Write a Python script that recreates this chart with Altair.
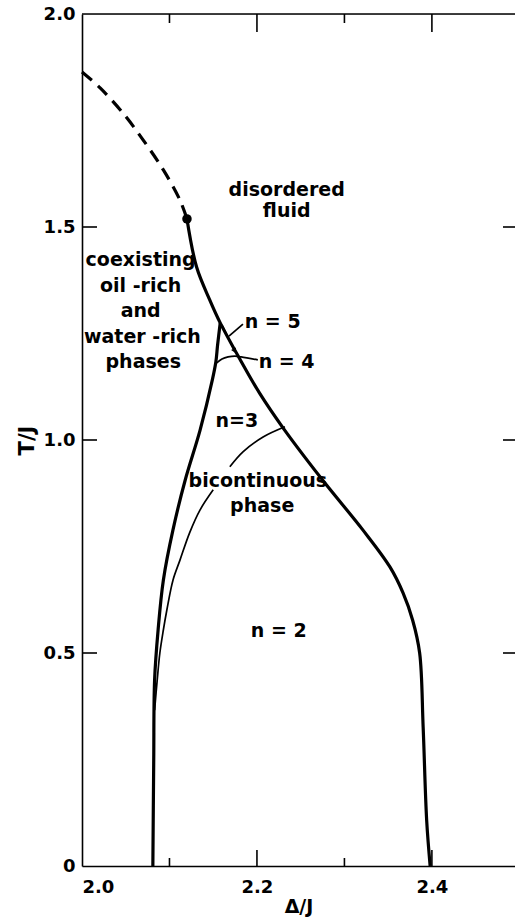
import altair as alt
import pandas as pd

# Phase boundaries in the (Delta/J, T/J) plane
dashed_d = [2.000, 2.021, 2.047, 2.070, 2.093, 2.112, 2.120]
dashed_t = [1.864, 1.826, 1.767, 1.704, 1.634, 1.563, 1.519]

right_d = [2.120, 2.131, 2.146, 2.158, 2.181, 2.203, 2.230, 2.275, 2.321, 2.352,
           2.367, 2.378, 2.386, 2.390, 2.394, 2.398]
right_t = [1.519, 1.406, 1.329, 1.275, 1.188, 1.110, 1.028, 0.906, 0.789, 0.702,
           0.641, 0.577, 0.500, 0.326, 0.108, 0.000]

left_d = [2.158, 2.155, 2.153, 2.149, 2.135, 2.118, 2.104, 2.093, 2.087, 2.083, 2.082, 2.081]
left_t = [1.275, 1.223, 1.183, 1.141, 1.023, 0.906, 0.789, 0.671, 0.554, 0.437, 0.249, 0.000]

bico_upper_d = [2.232, 2.207, 2.184, 2.169]
bico_upper_t = [1.031, 1.007, 0.972, 0.937]
bico_lower_d = [2.150, 2.135, 2.123, 2.112, 2.104, 2.097, 2.093, 2.089, 2.086, 2.083]
bico_lower_t = [0.883, 0.836, 0.782, 0.718, 0.671, 0.601, 0.554, 0.500, 0.437, 0.366]

n4_d = [2.154, 2.160, 2.167, 2.175, 2.182, 2.201]
n4_t = [1.181, 1.190, 1.195, 1.197, 1.195, 1.188]

n5_inner_d = [2.160, 2.174]
n5_inner_t = [1.270, 1.211]
n5_pointer_d = [2.184, 2.168]
n5_pointer_t = [1.272, 1.244]

critical_d = [2.120]
critical_t = [1.519]

# Axis ticks
x_label_values = [2.0, 2.2, 2.4]
x_major_ticks = [2.2, 2.4]
x_minor_ticks = [2.1, 2.3]
y_ticks = [0.5, 1.0, 1.5]

# Region labels
label_text = ["disordered", "fluid", "coexisting", "oil -rich", "and", "water -rich",
              "phases", "n=3", "bicontinuous", "phase", "n = 2"]
label_d = [2.234, 2.234, 2.067, 2.067, 2.067, 2.069, 2.070, 2.177, 2.201, 2.206, 2.225]
label_t = [1.573, 1.523, 1.408, 1.347, 1.289, 1.228, 1.169, 1.031, 0.890, 0.831, 0.538]

pointer_text = ["n = 5", "n = 4"]
pointer_d = [2.186, 2.202]
pointer_t = [1.263, 1.169]

W, H = 433, 852
FONT = "DejaVu Sans"
TXT = 19
X_DOMAIN = [2.0, 2.495]
Y_DOMAIN = [0.0, 2.0]


def curve(name, ds, ts):
    return pd.DataFrame({"curve": name, "i": range(len(ds)), "d": ds, "t": ts})


thick = pd.concat([curve("right", right_d, right_t), curve("left", left_d, left_t)])
thin = pd.concat([
    curve("bico_upper", bico_upper_d, bico_upper_t),
    curve("bico_lower", bico_lower_d, bico_lower_t),
    curve("n4", n4_d, n4_t),
    curve("n5_inner", n5_inner_d, n5_inner_t),
    curve("n5_pointer", n5_pointer_d, n5_pointer_t),
])
dashed = curve("spinodal", dashed_d, dashed_t)

x_enc = alt.X(
    "d:Q",
    scale=alt.Scale(domain=X_DOMAIN, nice=False, zero=False),
    axis=alt.Axis(
        values=x_label_values, format=".1f", ticks=False, grid=False,
        domainColor="black", domainWidth=1.6, labelPadding=12,
        labelFontSize=18, labelFont=FONT, labelFontWeight="bold", labelColor="black",
        title="Δ/J", titleFontSize=19, titleFont=FONT, titleFontWeight="bold",
        titleBaseline="alphabetic", titleY=46, titleColor="black",
    ),
)
y_enc = alt.Y(
    "t:Q",
    scale=alt.Scale(domain=Y_DOMAIN, nice=False),
    axis=alt.Axis(
        values=[0, 0.5, 1.0, 1.5, 2.0], ticks=False, grid=False,
        labelExpr="datum.value == 0 ? '0' : format(datum.value, '.1f')",
        domainColor="black", domainWidth=1.6, labelPadding=7,
        labelFontSize=18, labelFont=FONT, labelFontWeight="bold", labelColor="black",
        title="T/J", titleFontSize=21, titleFont=FONT, titleFontWeight="bold",
        titlePadding=6, titleColor="black",
    ),
)

thick_layer = alt.Chart(thick).mark_line(
    color="black", strokeWidth=3.2, interpolate="catmull-rom"
).encode(x=x_enc, y=y_enc, detail="curve:N", order="i:Q")
thin_layer = alt.Chart(thin).mark_line(
    color="black", strokeWidth=1.7, interpolate="catmull-rom"
).encode(x="d:Q", y="t:Q", detail="curve:N", order="i:Q")
dashed_layer = alt.Chart(dashed).mark_line(
    color="black", strokeWidth=3.2, strokeDash=[13, 8], interpolate="catmull-rom"
).encode(x="d:Q", y="t:Q", order="i:Q")

dot = alt.Chart(pd.DataFrame({"d": critical_d, "t": critical_t})).mark_circle(
    color="black", opacity=1, size=90
).encode(x="d:Q", y="t:Q")

arrow_head = alt.Chart(
    pd.DataFrame({"d": [n5_inner_d[-1]], "t": [n5_inner_t[-1]]})
).mark_point(shape="triangle", filled=True, color="black", opacity=1, size=30, angle=154).encode(
    x="d:Q", y="t:Q"
)

labels = alt.Chart(pd.DataFrame({"d": label_d, "t": label_t, "txt": label_text})).mark_text(
    font=FONT, fontSize=TXT, fontWeight="bold", color="black", align="center",
    baseline="alphabetic"
).encode(x="d:Q", y="t:Q", text="txt:N")

pointer_labels = alt.Chart(
    pd.DataFrame({"d": pointer_d, "t": pointer_t, "txt": pointer_text})
).mark_text(
    font=FONT, fontSize=TXT, fontWeight="bold", color="black", align="left",
    baseline="alphabetic"
).encode(x="d:Q", y="t:Q", text="txt:N")

# Inward tick marks on all four sides
xmaj = pd.DataFrame({"d": x_major_ticks})
xmin = pd.DataFrame({"d": x_minor_ticks})
yt = pd.DataFrame({"t": y_ticks})

bottom_major = alt.Chart(xmaj).mark_rule(color="black", strokeWidth=1.6).encode(
    x="d:Q", y=alt.value(H), y2=alt.value(H - 16))
bottom_minor = alt.Chart(xmin).mark_rule(color="black", strokeWidth=1.6).encode(
    x="d:Q", y=alt.value(H), y2=alt.value(H - 8))
top_major = alt.Chart(xmaj).mark_rule(color="black", strokeWidth=1.6).encode(
    x="d:Q", y=alt.value(0), y2=alt.value(18))
top_minor = alt.Chart(xmin).mark_rule(color="black", strokeWidth=1.6).encode(
    x="d:Q", y=alt.value(0), y2=alt.value(9))
left_ticks = alt.Chart(yt).mark_rule(color="black", strokeWidth=1.6).encode(
    y="t:Q", x=alt.value(0), x2=alt.value(15))
right_ticks = alt.Chart(yt).mark_rule(color="black", strokeWidth=1.6).encode(
    y="t:Q", x=alt.value(W - 12), x2=alt.value(W))
top_border = alt.Chart(pd.DataFrame({"k": [0]})).mark_rule(color="black", strokeWidth=1.6).encode(
    x=alt.value(0), x2=alt.value(W), y=alt.value(0))

chart = alt.layer(
    thick_layer, thin_layer, dashed_layer, dot, arrow_head, labels, pointer_labels,
    bottom_major, bottom_minor, top_major, top_minor, left_ticks, right_ticks, top_border,
).properties(
    width=W, height=H,
    autosize=alt.AutoSizeParams(type="none"),
    padding={"left": 82, "top": 14, "right": 0, "bottom": 53},
).configure_view(stroke=None).configure(background="white")

chart.save("out.html", embed_options={"renderer": "svg", "actions": False})
